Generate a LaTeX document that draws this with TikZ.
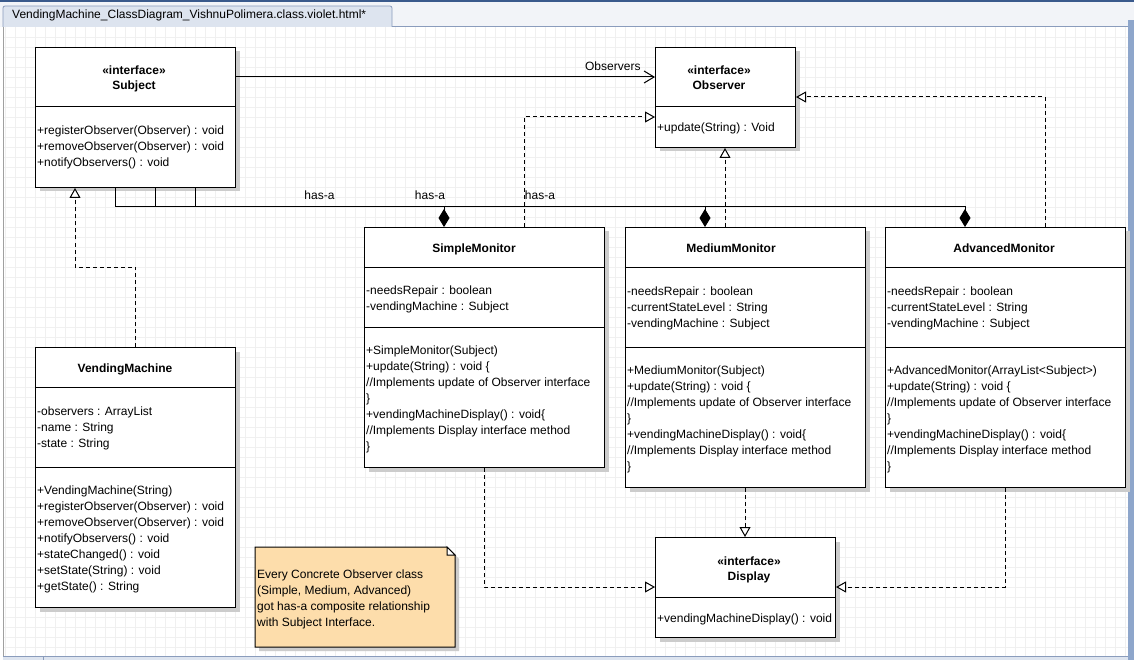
\documentclass[tikz,border=0pt]{standalone}
\usepackage{fontspec}
\setmainfont{Liberation Sans}
\usetikzlibrary{arrows.meta,calc,shadows}

\definecolor{chromeblue}{HTML}{3A5A8C}
\definecolor{chromebg}{HTML}{F2F4F8}
\definecolor{tabfill}{HTML}{DDE4EF}
\definecolor{tabborder}{HTML}{8A9CBC}
\definecolor{gridc}{HTML}{F0F0F0}
\definecolor{notefill}{HTML}{FDDDAB}
\definecolor{sidebar}{HTML}{8EA6CB}
\definecolor{shadowc}{HTML}{CCCCCC}
\definecolor{framec}{HTML}{A0A0A0}

\tikzset{
  px/.style={x=1pt,y=-1pt},
  umlbox/.style={draw=black, line width=1pt, fill=white, inner sep=0pt, anchor=north west,
    drop shadow={shadow xshift=4pt, shadow yshift=-4pt, fill=shadowc, opacity=1}},
  sep/.style={draw=black, line width=1pt},
  member/.style={anchor=base west, inner sep=0pt, font=\fontsize{12}{14}\selectfont},
  ctitle/.style={anchor=base, inner sep=0pt, font=\bfseries\fontsize{12}{14}\selectfont},
  elabel/.style={anchor=base, inner sep=0pt, font=\fontsize{12}{14}\selectfont},
  realize/.style={line width=1pt, dash pattern=on 4pt off 3pt,
    -{Triangle[length=10pt, width=11pt, fill=white]}},
  assoc/.style={line width=1pt, -{Straight Barb[length=10pt, width=12pt]}},
  compos/.style={line width=1pt, {Diamond[length=18pt, width=11pt]}-},
  gridline/.style={draw=gridc, line width=0.6pt},
}

\begin{document}
\begin{tikzpicture}[px]
\useasboundingbox (0,0) rectangle (1134,660);

% ---- editor window chrome ----
\fill[white] (0,0) rectangle (1134,660);
\fill[chromebg] (0,2.5) rectangle (1134,27);
\fill[chromeblue] (0,0) rectangle (1134,2.5);
\filldraw[fill=tabfill, draw=tabborder, line width=0.8pt, rounded corners=2pt]
  (3,27) -- (3,6) -- (392,6) -- (392,27);
\node[anchor=base west, inner sep=0pt, font=\fontsize{12}{14}\selectfont] (tabtitle)
  at (12,18.5) {VendingMachine\_ClassDiagram\_VishnuPolimera.class.violet.html*};

% ---- drawing canvas with grid ----
\fill[white] (3,27) rectangle (1128,656);
\foreach \gx in {5,15,...,1125} \draw[gridline] (\gx,27) -- (\gx,656);
\foreach \gy in {37,47,...,647} \draw[gridline] (3,\gy) -- (1128,\gy);
\draw[framec, line width=0.8pt] (3,27) -- (3,656) -- (1128,656);
\draw[tabborder, line width=0.8pt] (392,26.5) -- (1128,26.5);
\fill[sidebar] (1128,20) rectangle (1134,660);
\fill[tabfill] (3,656.5) rectangle (1128,660);
\draw[tabborder, line width=0.8pt] (3,656.5) -- (1128,656.5);
\draw[tabborder, line width=0.8pt] (43,656.5) -- (43,660);

% ---- Subject ----
\node[umlbox, minimum width=200pt, minimum height=140pt] (subject) at (35,47) {};
\draw[sep] ($(subject.north west)+(0,60)$) -- ($(subject.north east)+(0,60)$);
\node[ctitle] (subject-st) at (134,75) {«interface»};
\node[ctitle] (subject-name) at (134,90) {Subject};
\node[member] (subject-m1) at (37,135) {+registerObserver(Observer) : void};
\node[member] (subject-m2) at (37,151) {+removeObserver(Observer) : void};
\node[member] (subject-m3) at (37,167) {+notifyObservers() : void};

% ---- Observer ----
\node[umlbox, minimum width=140pt, minimum height=100pt] (observer) at (655,47) {};
\draw[sep] ($(observer.north west)+(0,60)$) -- ($(observer.north east)+(0,60)$);
\node[ctitle] (observer-st) at (719,75) {«interface»};
\node[ctitle] (observer-name) at (719,90) {Observer};
\node[member] (observer-m1) at (657,132) {+update(String) : Void};

% ---- SimpleMonitor ----
\node[umlbox, minimum width=240pt, minimum height=240pt] (simple) at (364,227) {};
\draw[sep] ($(simple.north west)+(0,40)$) -- ($(simple.north east)+(0,40)$);
\draw[sep] ($(simple.north west)+(0,100)$) -- ($(simple.north east)+(0,100)$);
\node[ctitle] (simple-name) at (474,252) {SimpleMonitor};
\node[member] (simple-a1) at (366,294) {-needsRepair : boolean};
\node[member] (simple-a2) at (366,310) {-vendingMachine : Subject};
\node[member] (simple-m1) at (366,354) {+SimpleMonitor(Subject)};
\node[member] (simple-m2) at (366,370) {+update(String) : void \{};
\node[member] (simple-m3) at (366,386) {//Implements update of Observer interface};
\node[member] (simple-m4) at (366,402) {\}};
\node[member] (simple-m5) at (366,418) {+vendingMachineDisplay() : void\{};
\node[member] (simple-m6) at (366,434) {//Implements Display interface method};
\node[member] (simple-m7) at (366,450) {\}};

% ---- MediumMonitor ----
\node[umlbox, minimum width=240pt, minimum height=260pt] (medium) at (625,227) {};
\draw[sep] ($(medium.north west)+(0,40)$) -- ($(medium.north east)+(0,40)$);
\draw[sep] ($(medium.north west)+(0,120)$) -- ($(medium.north east)+(0,120)$);
\node[ctitle] (medium-name) at (731,252) {MediumMonitor};
\node[member] (medium-a1) at (627,295) {-needsRepair : boolean};
\node[member] (medium-a2) at (627,311) {-currentStateLevel : String};
\node[member] (medium-a3) at (627,327) {-vendingMachine : Subject};
\node[member] (medium-m1) at (627,374) {+MediumMonitor(Subject)};
\node[member] (medium-m2) at (627,390) {+update(String) : void \{};
\node[member] (medium-m3) at (627,406) {//Implements update of Observer interface};
\node[member] (medium-m4) at (627,422) {\}};
\node[member] (medium-m5) at (627,438) {+vendingMachineDisplay() : void\{};
\node[member] (medium-m6) at (627,454) {//Implements Display interface method};
\node[member] (medium-m7) at (627,470) {\}};

% ---- AdvancedMonitor ----
\node[umlbox, minimum width=240pt, minimum height=260pt] (advanced) at (885,227) {};
\draw[sep] ($(advanced.north west)+(0,40)$) -- ($(advanced.north east)+(0,40)$);
\draw[sep] ($(advanced.north west)+(0,120)$) -- ($(advanced.north east)+(0,120)$);
\node[ctitle] (advanced-name) at (1004,252) {AdvancedMonitor};
\node[member] (advanced-a1) at (887,295) {-needsRepair : boolean};
\node[member] (advanced-a2) at (887,311) {-currentStateLevel : String};
\node[member] (advanced-a3) at (887,327) {-vendingMachine : Subject};
\node[member] (advanced-m1) at (887,374) {+AdvancedMonitor(ArrayList<Subject>)};
\node[member] (advanced-m2) at (887,390) {+update(String) : void \{};
\node[member] (advanced-m3) at (887,406) {//Implements update of Observer interface};
\node[member] (advanced-m4) at (887,422) {\}};
\node[member] (advanced-m5) at (887,438) {+vendingMachineDisplay() : void\{};
\node[member] (advanced-m6) at (887,454) {//Implements Display interface method};
\node[member] (advanced-m7) at (887,470) {\}};

% ---- VendingMachine ----
\node[umlbox, minimum width=200pt, minimum height=260pt] (vm) at (35,347) {};
\draw[sep] ($(vm.north west)+(0,40)$) -- ($(vm.north east)+(0,40)$);
\draw[sep] ($(vm.north west)+(0,120)$) -- ($(vm.north east)+(0,120)$);
\node[ctitle] (vm-name) at (125,372) {VendingMachine};
\node[member] (vm-a1) at (37,415) {-observers : ArrayList};
\node[member] (vm-a2) at (37,431) {-name : String};
\node[member] (vm-a3) at (37,447) {-state : String};
\node[member] (vm-m1) at (37,494) {+VendingMachine(String)};
\node[member] (vm-m2) at (37,510) {+registerObserver(Observer) : void};
\node[member] (vm-m3) at (37,526) {+removeObserver(Observer) : void};
\node[member] (vm-m4) at (37,542) {+notifyObservers() : void};
\node[member] (vm-m5) at (37,558) {+stateChanged() : void};
\node[member] (vm-m6) at (37,574) {+setState(String) : void};
\node[member] (vm-m7) at (37,590) {+getState() : String};

% ---- Display ----
\node[umlbox, minimum width=180pt, minimum height=100pt] (display) at (655,537) {};
\draw[sep] ($(display.north west)+(0,60)$) -- ($(display.north east)+(0,60)$);
\node[ctitle] (display-st) at (749,565) {«interface»};
\node[ctitle] (display-name) at (749,580) {Display};
\node[member] (display-m1) at (657,622) {+vendingMachineDisplay() : void};

% ---- note with folded corner ----
\fill[shadowc] (259,551) -- (451,551) -- (459,559) -- (459,651) -- (259,651) -- cycle;
\filldraw[fill=notefill, draw=black, line width=1pt]
  (255,547) -- (447,547) -- (455,555) -- (455,647) -- (255,647) -- cycle;
\filldraw[fill=white, draw=black, line width=1pt] (447,547) -- (447,555) -- (455,555) -- cycle;
\node[member] (note-l1) at (257,578) {Every Concrete Observer class};
\node[member] (note-l2) at (257,594) {(Simple, Medium, Advanced)};
\node[member] (note-l3) at (257,610) {got has-a composite relationship};
\node[member] (note-l4) at (257,626) {with Subject Interface.};

% ---- connector anchor points ----
\coordinate (hasrow) at (0,207);
\coordinate (subj-foot1) at ($(subject.south west)+(80,0)$);
\coordinate (subj-foot2) at ($(subject.south west)+(120,0)$);
\coordinate (subj-foot3) at ($(subject.south west)+(160,0)$);
\coordinate (subj-real) at ($(subject.south west)+(40,0)$);
\coordinate (vm-bend) at (0,267);
\coordinate (simple-comp) at ($(simple.north west)+(80,0)$);
\coordinate (simple-obs) at ($(simple.north west)+(160,0)$);
\coordinate (simple-disp) at ($(simple.south west)+(120,0)$);
\coordinate (medium-comp) at ($(medium.north west)+(80,0)$);
\coordinate (medium-obs) at ($(medium.north west)+(100,0)$);
\coordinate (medium-disp) at ($(medium.south west)+(120,0)$);
\coordinate (advanced-comp) at ($(advanced.north west)+(80,0)$);
\coordinate (advanced-obs) at ($(advanced.north west)+(160,0)$);
\coordinate (advanced-disp) at ($(advanced.south west)+(120,0)$);
\coordinate (obs-left) at ($(observer.north west)+(0,70)$);
\coordinate (obs-right) at ($(observer.north east)+(0,50)$);
\coordinate (disp-left) at ($(display.north west)+(0,50)$);
\coordinate (disp-right) at ($(display.north east)+(0,50)$);

% ---- association Subject -> Observer ----
\draw[assoc] ($(subject.north east)+(0,30)$) -- ($(observer.north west)+(0,30)$)
  node[elabel, pos=1, anchor=base east, xshift=-14pt, yshift=6pt] (obs-label) {Observers};

% ---- compositions (has-a) ----
\draw[compos] (simple-comp) -- (simple-comp |- hasrow)
  -- node[elabel, yshift=7pt] (hasa-simple) {has-a} (subj-foot3 |- hasrow) -- (subj-foot3);
\draw[compos] (medium-comp) -- (medium-comp |- hasrow)
  -- node[elabel, yshift=7pt] (hasa-medium) {has-a} (subj-foot2 |- hasrow) -- (subj-foot2);
\draw[compos] (advanced-comp) -- (advanced-comp |- hasrow)
  -- node[elabel, yshift=7pt] (hasa-advanced) {has-a} (subj-foot1 |- hasrow) -- (subj-foot1);

% ---- realizations ----
\draw[realize] (vm.north) -- (vm.north |- vm-bend) -- (subj-real |- vm-bend) -- (subj-real);
\draw[realize] (simple-obs) |- (obs-left);
\draw[realize] (medium-obs) -- (medium-obs |- observer.south);
\draw[realize] (advanced-obs) |- (obs-right);
\draw[realize] (simple-disp) |- (disp-left);
\draw[realize] (medium-disp) -- (medium-disp |- display.north);
\draw[realize] (advanced-disp) |- (disp-right);

\end{tikzpicture}
\end{document}
